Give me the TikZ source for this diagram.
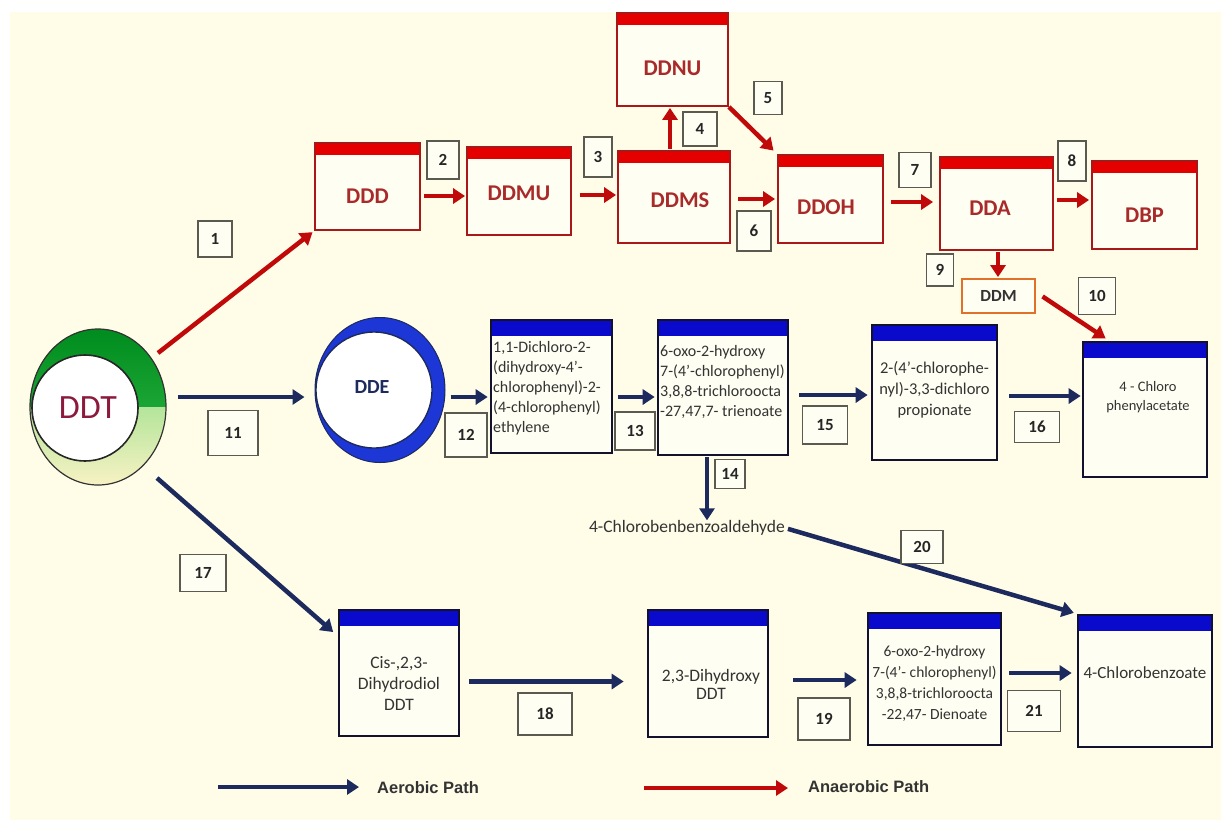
\documentclass[tikz,border=0pt]{standalone}
\usepackage{fontspec}
\setmainfont{Carlito}
\newfontfamily\legfont{Liberation Sans}
\usetikzlibrary{arrows.meta,shapes.geometric,calc}
\definecolor{cream}{HTML}{FFFDE8}
\definecolor{boxfill}{HTML}{FFFEF2}
\definecolor{redline}{HTML}{A81818}
\definecolor{redbar}{HTML}{E50000}
\definecolor{redtext}{HTML}{A82A2A}
\definecolor{anared}{HTML}{C00A0A}
\definecolor{navy}{HTML}{1C2A5E}
\definecolor{bline}{HTML}{12122E}
\definecolor{bluebar}{HTML}{0A0ACC}
\definecolor{ddeblue}{HTML}{1D36D6}
\definecolor{lblline}{HTML}{5A5A50}
\definecolor{ddtred}{HTML}{8B1A3C}
\definecolor{gA}{HTML}{008C1E}
\definecolor{gB}{HTML}{35BF4A}
\definecolor{gC}{HTML}{6FD870}
\definecolor{gD}{HTML}{F8F2C4}
\definecolor{ddmline}{HTML}{E0702A}
\tikzset{
  redbox/.style={draw=redline, line width=1.8pt, fill=boxfill, inner sep=0pt,
    path picture={\fill[redbar] ([yshift=2pt]path picture bounding box.north west) rectangle ([yshift=-12pt]path picture bounding box.north east);}},
  bluebox/.style={draw=bline, line width=2.6pt, fill=boxfill, inner sep=0pt,
    path picture={\fill[bluebar] ([yshift=2pt]path picture bounding box.north west) rectangle ([yshift=-16pt]path picture bounding box.north east);}},
  rtext/.style={text=redtext, font=\fontsize{22.5}{26}\selectfont\bfseries, inner sep=0pt},
  btext/.style={text=black!80, font=\fontsize{16}{20}\selectfont, inner sep=0pt},
  lbl/.style={draw=lblline, line width=1.2pt, fill=boxfill, inner sep=0pt, text=black!85,
    font=\fontsize{17}{19}\selectfont\bfseries},
  ana/.style={draw=anared, line width=4.5pt, -{Triangle[length=12pt,width=15pt]}},
  aer/.style={draw=navy, line width=4.5pt, -{Triangle[length=12pt,width=15pt]}},
}
\begin{document}
\begin{tikzpicture}[x=1pt,y=-1pt]
\useasboundingbox (0,0) rectangle (1221,820);
\fill[white] (0,0) rectangle (1221,820);
\fill[cream] (10,12) rectangle (1221,820);

% ---------- DDT ----------
\node[ellipse, minimum width=136pt, minimum height=156pt, inner sep=0pt] (ddt) at (98,407) {};
\begin{scope}
  \clip (25,320) rectangle (175,407);
  \fill[top color=gA, bottom color=gB] (98,407) ellipse [x radius=68, y radius=78];
\end{scope}
\begin{scope}
  \clip (25,407) rectangle (175,495);
  \fill[top color=gC, bottom color=gD] (98,407) ellipse [x radius=68, y radius=78];
\end{scope}
\draw[black!80, line width=1.2pt] (98,407) ellipse [x radius=68, y radius=78];
\draw[black!85, line width=1.6pt, fill=white] (85,408) circle [radius=53];
\node[text=ddtred, font=\fontsize{34}{40}\selectfont, inner sep=0pt] (ddt-t) at (88,408) {DDT};

% ---------- DDE ----------
\node[ellipse, minimum width=130pt, minimum height=145pt, inner sep=0pt, fill=ddeblue, draw=navy, line width=1pt] (dde) at (380,390) {};
\draw[navy, line width=1.4pt, fill=white] (374,390) ellipse [x radius=58, y radius=58];
\node[text=navy, font=\fontsize{20}{24}\selectfont\bfseries, inner sep=0pt] (dde-t) at (372,387) {DDE};

% ---------- anaerobic boxes ----------
\node[redbox, minimum width=105pt, minimum height=87pt] (ddd) at (367.5,186.5) {};
\node[rtext] (ddd-t) at (367.5,196) {DDD};
\node[redbox, minimum width=104pt, minimum height=88pt] (ddmu) at (519,191) {};
\node[rtext] (ddmu-t) at (519,193) {DDMU};
\node[redbox, minimum width=112pt, minimum height=92pt] (ddms) at (674,197) {};
\node[rtext] (ddms-t) at (680,200) {DDMS};
\node[redbox, minimum width=111pt, minimum height=93pt] (ddnu) at (672.5,59.5) {};
\node[rtext] (ddnu-t) at (672.5,68) {DDNU};
\node[redbox, minimum width=105pt, minimum height=88pt] (ddoh) at (830.5,199) {};
\node[rtext] (ddoh-t) at (826,207) {DDOH};
\node[redbox, minimum width=113pt, minimum height=93pt] (dda) at (996.5,203.5) {};
\node[rtext] (dda-t) at (990,208) {DDA};
\node[redbox, minimum width=105pt, minimum height=88pt] (dbp) at (1144.5,205) {};
\node[rtext] (dbp-t) at (1144.5,215) {DBP};
\node[draw=ddmline, line width=1.8pt, fill=boxfill, minimum width=73pt, minimum height=34pt, inner sep=0pt,
      text=black!80, font=\fontsize{17}{19}\selectfont\bfseries] (ddm) at (998.5,296) {DDM};

% ---------- aerobic boxes ----------
\node[bluebox, minimum width=121pt, minimum height=133pt] (b1) at (551.5,386.5) {};
\node[btext, align=left, anchor=west] (b1-t) at (493,388) {1,1-Dichloro-2-\\(dihydroxy-4'-\\chlorophenyl)-2-\\(4-chlorophenyl)\\ethylene};
\node[bluebox, minimum width=130pt, minimum height=135pt] (b2) at (723,387.5) {};
\node[btext, align=left, anchor=west] (b2-t) at (660,382) {6-oxo-2-hydroxy\\7-(4'-chlorophenyl)\\3,8,8-trichloroocta\\-27,47,7- trienoate};
\node[bluebox, minimum width=125pt, minimum height=135pt] (b3) at (934.5,392.5) {};
\node[btext, align=center, font=\fontsize{16.5}{21}\selectfont] (b3-t) at (934.5,390) {2-(4'-chlorophe-\\nyl)-3,3-dichloro\\propionate};
\node[bluebox, minimum width=124pt, minimum height=135pt] (b4) at (1145,409.5) {};
\node[btext, align=center, font=\fontsize{14.5}{19}\selectfont] (b4-t) at (1148,397) {4 - Chloro\\phenylacetate};

\node[bluebox, minimum width=120pt, minimum height=126pt] (c1) at (399,673) {};
\node[btext, align=center, font=\fontsize{17.5}{21}\selectfont] (c1-t) at (399,683) {Cis-,2,3-\\Dihydrodiol\\DDT};
\node[bluebox, minimum width=120pt, minimum height=127pt] (c2) at (708,673.5) {};
\node[btext, align=center, font=\fontsize{17.5}{18}\selectfont] (c2-t) at (711,684) {2,3-Dihydroxy\\DDT};
\node[bluebox, minimum width=133pt, minimum height=132pt] (c3) at (934.5,679) {};
\node[btext, align=center, font=\fontsize{15.5}{21}\selectfont] (c3-t) at (934.5,684) {6-oxo-2-hydroxy\\7-(4'- chlorophenyl)\\3,8,8-trichloroocta\\-22,47- Dienoate};
\node[bluebox, minimum width=134pt, minimum height=132pt] (c4) at (1145,681) {};
\node[btext, font=\fontsize{17}{20}\selectfont] (c4-t) at (1145,673) {4-Chlorobenzoate};

\node[btext, font=\fontsize{17.5}{20}\selectfont] (ald) at (687,528) {4-Chlorobenbenzoaldehyde};

% ---------- start coordinates ----------
\coordinate (o1) at (158,353);
\coordinate (o11) at (178,397);
\coordinate (o17) at (157,478);

% ---------- anaerobic arrows ----------
\draw[ana, shorten >=2pt] (o1) -- (ddd.south west);
\draw[ana, shorten <=3pt, shorten >=1pt] ([yshift=-9.5pt]ddd.east) -- ([yshift=-9.5pt]ddd.east -| ddmu.west);
\draw[ana, shorten <=8pt, shorten >=1pt] ([yshift=-4pt]ddmu.east) -- ([yshift=-4pt]ddmu.east -| ddms.west);
\draw[ana, shorten <=1pt, shorten >=1pt] ([xshift=-4pt]ddms.north) -- ([xshift=-4pt]ddms.north |- ddnu.south);
\draw[ana, shorten >=5pt] (ddnu.south east) -- (ddoh.north west);
\draw[ana, shorten <=7pt, shorten >=2pt] ([yshift=-2pt]ddms.east) -- ([yshift=-2pt]ddms.east -| ddoh.west);
\draw[ana, shorten <=7pt, shorten >=6pt] ([yshift=-3pt]ddoh.east) -- ([yshift=-3pt]ddoh.east -| dda.west);
\draw[ana, shorten <=3pt, shorten >=2pt] ([yshift=3.5pt]dda.east) -- ([yshift=3.5pt]dda.east -| dbp.west);
\draw[ana, shorten <=1pt, shorten >=1pt] ([xshift=1.5pt]dda.south) -- ([xshift=1.5pt]dda.south |- ddm.north);
\draw[ana, shorten <=8pt, shorten >=4pt] ([yshift=4pt]ddm.east) -- ([xshift=-36pt]b4.north);

% ---------- aerobic arrows ----------
\draw[aer, shorten >=10pt] (o11) -- (o11 -| dde.west);
\draw[aer, shorten <=5pt, shorten >=2pt] ([yshift=-7pt]dde.east) -- ([yshift=-7pt]dde.east -| b1.west);
\draw[aer, shorten <=5pt, shorten >=2pt] ([yshift=-10.5pt]b1.east) -- ([yshift=-10.5pt]b1.east -| b2.west);
\draw[aer, shorten <=10pt, shorten >=3pt] ([yshift=-7.5pt]b2.east) -- ([yshift=-7.5pt]b2.east -| b3.west);
\draw[aer, shorten <=11pt, shorten >=1pt] ([yshift=-3.5pt]b3.east) -- ([yshift=-3.5pt]b3.east -| b4.west);
\draw[aer, line width=3.5pt, shorten <=1pt, shorten >=0pt] ([xshift=-16pt]b2.south) -- ([xshift=-16pt]b2.south |- ald.north);
\draw[aer, shorten <=3pt, shorten >=3pt] (ald.east) -- (c4.north west);
\draw[aer, shorten >=6pt] (o17) -- ([yshift=37pt]c1.west);
\draw[aer, shorten <=9pt, shorten >=23pt] ([yshift=-8.5pt]c1.east) -- ([yshift=-8.5pt]c1.east -| c2.west);
\draw[aer, shorten <=24pt, shorten >=10pt] ([yshift=-6.5pt]c2.east) -- ([yshift=-6.5pt]c2.east -| c3.west);
\draw[aer, shorten <=7pt, shorten >=5pt] ([yshift=6pt]c3.east) -- ([yshift=6pt]c3.east -| c4.west);

% ---------- step labels ----------
\node[lbl, minimum width=34pt, minimum height=36pt] (l1) at (215,239) {1};
\node[lbl, minimum width=32pt, minimum height=38pt] (l2) at (443,160) {2};
\node[lbl, minimum width=28pt, minimum height=40pt] (l3) at (598,157) {3};
\node[lbl, minimum width=34pt, minimum height=34pt] (l4) at (700,129) {4};
\node[lbl, minimum width=28pt, minimum height=33pt] (l5) at (768,98) {5};
\node[lbl, minimum width=34pt, minimum height=40pt] (l6) at (754,231) {6};
\node[lbl, minimum width=32pt, minimum height=35pt] (l7) at (915,170) {7};
\node[lbl, minimum width=28pt, minimum height=40pt] (l8) at (1072,161) {8};
\node[lbl, minimum width=27pt, minimum height=32pt] (l9) at (940,270) {9};
\node[lbl, minimum width=37pt, minimum height=37pt] (l10) at (1097,296) {10};
\node[lbl, minimum width=50pt, minimum height=45pt] (l11) at (233,433) {11};
\node[lbl, minimum width=42pt, minimum height=44pt] (l12) at (466,435) {12};
\node[lbl, minimum width=40pt, minimum height=38pt] (l13) at (635,431) {13};
\node[lbl, minimum width=30pt, minimum height=29pt] (l14) at (730,474) {14};
\node[lbl, minimum width=45pt, minimum height=38pt] (l15) at (825,425) {15};
\node[lbl, minimum width=45pt, minimum height=31pt] (l16) at (1037,427) {16};
\node[lbl, minimum width=46pt, minimum height=37pt] (l17) at (203,573) {17};
\node[lbl, minimum width=54pt, minimum height=42pt] (l18) at (545,714) {18};
\node[lbl, minimum width=52pt, minimum height=42pt] (l19) at (824,719) {19};
\node[lbl, minimum width=42pt, minimum height=33pt] (l20) at (922,547) {20};
\node[lbl, minimum width=53pt, minimum height=41pt] (l21) at (1034,711) {21};

% ---------- legend ----------
\node[anchor=west, inner sep=0pt, text=black!80, font=\legfont\bfseries\fontsize{16.5}{18}\selectfont] (leg1) at (377,788) {Aerobic Path};
\node[anchor=west, inner sep=0pt, text=black!80, font=\legfont\bfseries\fontsize{16.5}{18}\selectfont] (leg2) at (808,787) {Anaerobic Path};
\coordinate (lg1) at (218,787);
\coordinate (lg2) at (644,788);
\draw[aer, line width=4pt, shorten >=18pt] (lg1) -- (lg1 -| leg1.west);
\draw[ana, line width=4pt, shorten >=20pt] (lg2) -- (lg2 -| leg2.west);
\end{tikzpicture}
\end{document}
